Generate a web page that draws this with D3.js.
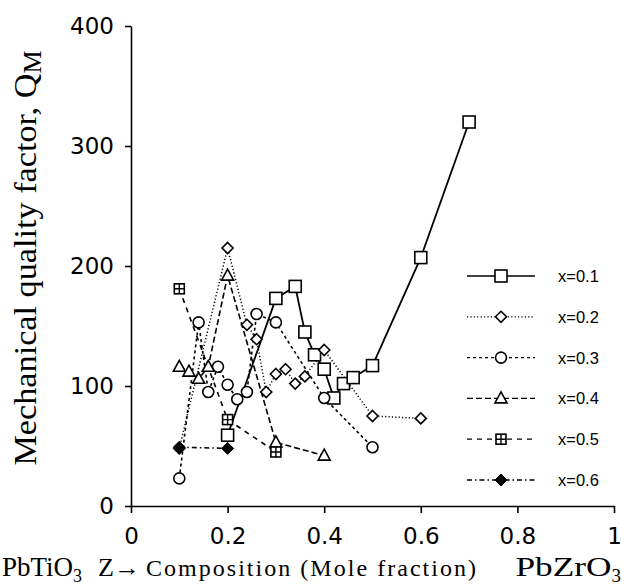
<!DOCTYPE html>
<html><head><meta charset="utf-8">
<script src="https://cdn.jsdelivr.net/npm/d3@7"></script>
<style>body{margin:0;background:#fff}svg{display:block}</style>
</head><body>
<svg id="chart" width="621" height="588"></svg>
<script>
// ---- data (composition Z, mechanical quality factor QM) ----
const seriesNames = ["x=0.1","x=0.2","x=0.3","x=0.4","x=0.5","x=0.6"];
const z01 = [0.20,0.30,0.34,0.36,0.38,0.40,0.42,0.44,0.46,0.50,0.60,0.70];
const q01 = [59,173,183,145,126,114,90,102,107,117,207,320];
const z02 = [0.10,0.20,0.24,0.26,0.28,0.30,0.32,0.34,0.36,0.40,0.50,0.60];
const q02 = [48,215,151,139,95,110,114,102,108,130,75,73];
const z03 = [0.10,0.14,0.16,0.18,0.20,0.22,0.24,0.26,0.30,0.40,0.50];
const q03 = [23,153,95,116,101,89,95,160,153,90,49];
const z04 = [0.10,0.12,0.14,0.16,0.20,0.30,0.40];
const q04 = [116,112,106,116,192,53,42];
const z05 = [0.10,0.20,0.30];
const q05 = [181,72,45];
const z06 = [0.10,0.20];
const q06 = [49,48];
const xTicks = [0,0.2,0.4,0.6,0.8,1];
const xTickLabels = ["0","0.2","0.4","0.6","0.8","1"];
const yTicks = [0,100,200,300,400];

const zs = [z01,z02,z03,z04,z05,z06];
const qs = [q01,q02,q03,q04,q05,q06];

// ---- styles ----
const dashes = [null,"1.2,2.2","3,3","6,3","5,5","5,3,1.5,3"];
const widths = [1.8,1.5,1.6,1.6,1.6,1.6];
const markers = ["square","diamond","circle","triangle","squareplus","fdiamond"];

const svg = d3.select("#chart");
const x = d3.scaleLinear().domain([0,1]).range([131,614]);
const y = d3.scaleLinear().domain([0,400]).range([506,26]);

function marker(g, type, cx, cy){
  const s = g.append("g").attr("transform",`translate(${cx},${cy})`);
  const st = {stroke:"#000","stroke-width":1.6,fill:"#fff"};
  let el;
  if(type==="square"){
    el = s.append("rect").attr("x",-6).attr("y",-6).attr("width",12).attr("height",12);
  } else if(type==="diamond"){
    el = s.append("path").attr("d","M0,-5.5L5.5,0L0,5.5L-5.5,0Z");
  } else if(type==="circle"){
    el = s.append("circle").attr("r",5.5);
  } else if(type==="triangle"){
    el = s.append("path").attr("d","M0,-6.5L6,4.5L-6,4.5Z");
  } else if(type==="squareplus"){
    el = s.append("rect").attr("x",-5).attr("y",-5).attr("width",10).attr("height",10);
    Object.entries(st).forEach(([k,v])=>el.attr(k,v));
    s.append("path").attr("d","M0,-5V5M-5,0H5").attr("stroke","#000").attr("stroke-width",1.4);
    return;
  } else if(type==="fdiamond"){
    el = s.append("path").attr("d","M0,-6L6,0L0,6L-6,0Z");
    el.attr("fill","#000").attr("stroke","#000").attr("stroke-width",1);
    return;
  }
  Object.entries(st).forEach(([k,v])=>el.attr(k,v));
}

// ---- axes ----
const xAxis = d3.axisBottom(x).tickValues(xTicks)
  .tickFormat((d,i)=>xTickLabels[i]).tickSize(7).tickSizeOuter(0).tickPadding(15);
const yAxis = d3.axisLeft(y).tickValues(yTicks).tickSize(6).tickSizeOuter(0).tickPadding(11);

const gx = svg.append("g").attr("transform",`translate(0,${y(0)})`).call(xAxis);
const gy = svg.append("g").attr("transform",`translate(${x(0)},0)`).call(yAxis);
[gx,gy].forEach(g=>{
  g.select(".domain").attr("stroke","#000").attr("stroke-width",1.6);
  g.selectAll(".tick line").attr("stroke","#000").attr("stroke-width",1.6);
  g.selectAll(".tick text").attr("fill","#000")
    .style("font-family","'DejaVu Sans', sans-serif").style("font-size","23px");
});

// ---- lines ----
const line = d3.line().x(d=>x(d[0])).y(d=>y(d[1]));
const plot = svg.append("g");
zs.forEach((zz,i)=>{
  const pts = zz.map((v,j)=>[v,qs[i][j]]);
  plot.append("path").datum(pts).attr("d",line)
    .attr("fill","none").attr("stroke","#000").attr("stroke-width",widths[i])
    .attr("stroke-dasharray",dashes[i]);
});
zs.forEach((zz,i)=>{
  zz.forEach((v,j)=>marker(plot, markers[i], x(v), y(qs[i][j])));
});

// ---- legend ----
const legendY = d3.scalePoint().domain(seriesNames).range([276,480]);
const lg = svg.append("g");
seriesNames.forEach((n,i)=>{
  const yy = legendY(n);
  lg.append("line").attr("x1",467).attr("x2",535).attr("y1",yy).attr("y2",yy)
    .attr("stroke","#000").attr("stroke-width",widths[i]-0.3).attr("stroke-dasharray",dashes[i]);
  marker(lg, markers[i], 501, yy);
  lg.append("text").attr("x",558).attr("y",yy+6).text(n)
    .style("font-family","'Liberation Sans', Arial, sans-serif").style("font-size","16.5px");
});

// ---- axis titles ----
const serif = "'Liberation Serif','Times New Roman',serif";
const yt = svg.append("text").attr("transform","translate(36,258) rotate(-90)")
  .attr("text-anchor","middle").style("font-family",serif).style("font-size","31px");
yt.append("tspan").attr("textLength",392).attr("lengthAdjust","spacingAndGlyphs")
  .text("Mechanical quality factor, Q");
yt.append("tspan").attr("dy",5).style("font-size","26px").text("M");

const bt = svg.append("g").style("font-family",serif);
const t1 = bt.append("text").attr("x",2).attr("y",576).style("font-size","27px");
t1.append("tspan").text("PbTiO");
t1.append("tspan").attr("dy",6).style("font-size","18px").text("3");
bt.append("text").attr("x",98).attr("y",576).style("font-size","25px")
  .attr("textLength",42).attr("lengthAdjust","spacingAndGlyphs").text("Z\u2192");
bt.append("text").attr("x",146).attr("y",576).style("font-size","24px")
  .attr("textLength",330).attr("lengthAdjust","spacing").text("Composition (Mole fraction)");
const t2 = bt.append("text").attr("x",621).attr("y",576).attr("text-anchor","end").style("font-size","28px");
t2.append("tspan").attr("textLength",96).attr("lengthAdjust","spacingAndGlyphs").text("PbZrO");
t2.append("tspan").attr("dy",6).style("font-size","19px").text("3");
</script>
</body></html>
